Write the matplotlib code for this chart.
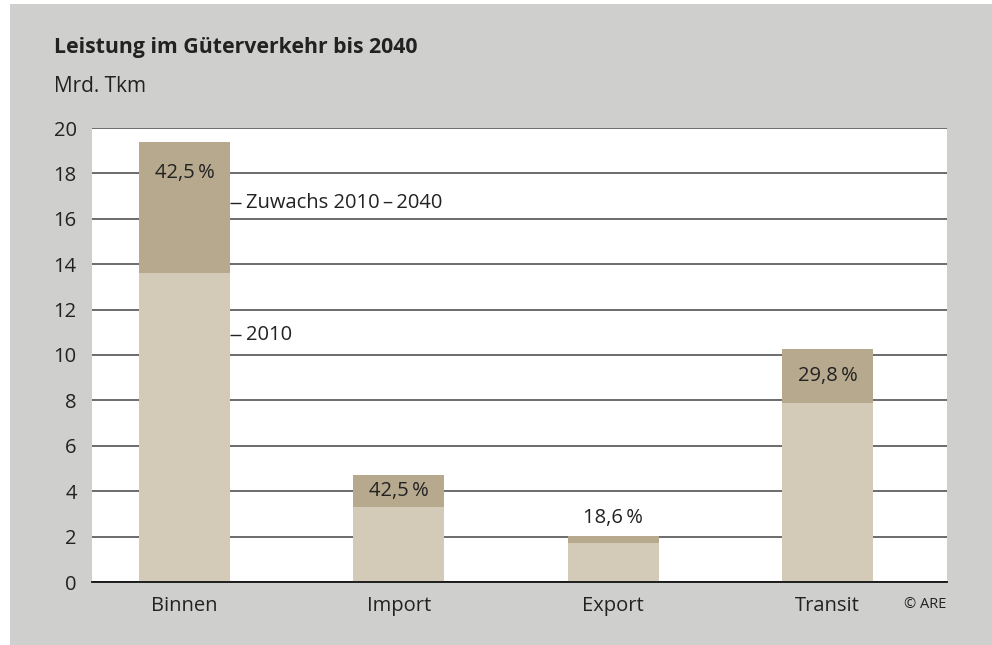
import matplotlib
matplotlib.use("Agg")
import matplotlib.pyplot as plt
from matplotlib.patches import Rectangle
import numpy as np

plt.rcParams['font.family'] = ['Open Sans', 'DejaVu Sans']

categories = ["Binnen", "Import", "Export", "Transit"]
base_2010 = [13.6, 3.3, 1.72, 7.9]
growth = [5.78, 1.4, 0.32, 2.35]
growth_labels = ["42,5\u2009%", "42,5\u2009%", "18,6\u2009%", "29,8\u2009%"]
label_outside = [False, False, True, False]
yticks = [0, 2, 4, 6, 8, 10, 12, 14, 16, 18, 20]
legend_growth = "Zuwachs 2010\u2009\u2013\u20092040"
legend_base = "2010"
title = "Leistung im Güterverkehr bis 2040"
unit = "Mrd. Tkm"
credit = "© ARE"

FS = 14.5
W, H = 992, 645
fig = plt.figure(figsize=(W / 100, H / 100), dpi=100)
fig.patch.set_facecolor("white")
bg = Rectangle((10 / W, 0), (W - 10) / W, (H - 4) / H,
               transform=fig.transFigure, facecolor="#cfcfcd",
               edgecolor="none", zorder=-10)
fig.patches.append(bg)

ax = fig.add_axes([92 / W, 63 / H, (946.5 - 92) / W, (582 - 128) / H])
ax.set_zorder(1)
ax.set_facecolor("white")

x = np.arange(len(categories))
bw = 0.424
light = "#d3cbb8"
dark = "#b7a98e"
ax.bar(x, base_2010, width=bw, color=light, zorder=2)
ax.bar(x, growth, width=bw, bottom=base_2010, color=dark, zorder=2)

ax.set_xlim(-0.431, 3.555)
ax.set_ylim(0, 20)
ax.set_yticks(yticks)
ax.set_yticklabels([str(t) for t in yticks], fontsize=FS, color="#222222")
ax.set_xticks(x)
ax.set_xticklabels(categories, fontsize=FS, color="#222222")
ax.tick_params(axis="y", length=0, pad=11)
ax.tick_params(axis="x", length=0, pad=10)
ax.yaxis.grid(True, color="#444444", linewidth=1.1, zorder=1)
ax.set_axisbelow(True)
for s in ["top", "right", "left"]:
    ax.spines[s].set_visible(False)
ax.spines["bottom"].set_color("#111111")
ax.spines["bottom"].set_linewidth(1.3)
ax.spines["bottom"].set_zorder(3)

for i in range(len(categories)):
    total = base_2010[i] + growth[i]
    if label_outside[i]:
        ypos = total + 0.8
    else:
        ypos = max(total - 1.35, (base_2010[i] + total) / 2)
    ax.text(x[i], ypos, growth_labels[i], ha="center", va="center",
            fontsize=FS, color="#222222", zorder=4)

# legend-like annotations next to the first bar
x_edge = x[0] + bw / 2
dx = 0.05
y_g = base_2010[0] + growth[0] * 0.536
y_b = base_2010[0] * 0.80
for yy, txt in [(y_g, legend_growth), (y_b, legend_base)]:
    ax.plot([x_edge, x_edge + dx], [yy, yy], color="#222222", lw=1, zorder=4,
            solid_capstyle="butt")
    ax.text(x_edge + dx + 0.025, yy, txt, ha="left", va="center",
            fontsize=FS, color="#222222", zorder=4)

fig.text(54 / W, 1 - 47 / H, title, fontsize=15.3, fontweight="bold",
         color="#222222", ha="left", va="center")
fig.text(54 / W, 1 - 87 / H, unit, fontsize=15, color="#222222",
         ha="left", va="center")
fig.text(946 / W, 1 - 605 / H, credit, fontsize=10.5, color="#222222",
         ha="right", va="center")

fig.savefig("out.png", dpi=100, facecolor=fig.get_facecolor())
